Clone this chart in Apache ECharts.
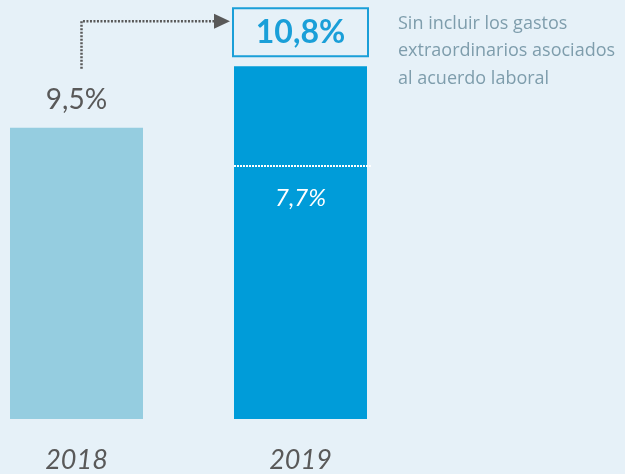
<!DOCTYPE html>
<html>
<head>
<meta charset="utf-8">
<script src="https://cdn.jsdelivr.net/npm/echarts@6/dist/echarts.min.js"></script>
<style>
  html, body { margin: 0; padding: 0; background: #e6f1f8; }
  #chart { width: 625px; height: 474px; }
</style>
</head>
<body>
<div id="chart"></div>
<script>
// datos
const years = ['2018', '2019']
const ratios = [9.5, 10.8]
const ratioLabels = ['9,5%', '10,8%']
const reported = [[1, 7.7]] // 2019 incluyendo gastos extraordinarios
const reportedLabels = ['7,7%']
const noteLines = ['Sin incluir los gastos', 'extraordinarios asociados', 'al acuerdo laboral']

const BAR_W = 133
const FONT = 'Lato, "Open Sans", sans-serif'
const colors = ['#95cde0', '#009cd9']

const chart = echarts.init(document.getElementById('chart'))

chart.setOption({
  backgroundColor: '#e6f1f8',
  animation: false,
  grid: { left: 76.5, width: 224, top: 0, bottom: 52 },
  xAxis: {
    type: 'category',
    data: years,
    boundaryGap: false,
    axisLine: { show: false },
    axisTick: { show: false },
    splitLine: { show: false },
    axisLabel: {
      margin: 28,
      fontSize: 27,
      fontStyle: 'italic',
      color: '#595959',
      fontFamily: FONT
    }
  },
  yAxis: [
    { type: 'value', min: 3.35, max: 12.2, show: false },
    { type: 'value', min: 0, max: 12.75, show: false } // escala del 7,7%
  ],
  graphic: [{
    type: 'text',
    left: 398,
    top: 10,
    style: {
      text: noteLines.join('\n'),
      font: '18px "Open Sans", sans-serif',
      lineHeight: 27.5,
      fill: '#7e9dac'
    }
  }],
  series: [
    {
      type: 'bar',
      barWidth: BAR_W,
      data: ratios.map((v, i) => ({
        value: v,
        itemStyle: { color: colors[i] },
        label: i === 0 ? {
          show: true,
          position: 'top',
          distance: 14,
          formatter: ratioLabels[i],
          fontSize: 28,
          color: '#595959',
          fontFamily: FONT
        } : {
          show: true,
          position: 'top',
          distance: 10,
          formatter: ratioLabels[i],
          fontSize: 32,
          fontWeight: 'bold',
          color: '#1a9fd8',
          fontFamily: FONT,
          width: 135,
          height: 48,
          lineHeight: 48,
          align: 'center',
          borderColor: '#1a9fd8',
          borderWidth: 2
        }
      }))
    },
    {
      // linea punteada del 7,7%
      type: 'custom',
      yAxisIndex: 1,
      data: reported,
      z: 5,
      renderItem(params, api) {
        const p = api.coord([api.value(0), api.value(1)])
        return {
          type: 'group',
          children: [
            {
              type: 'line',
              shape: { x1: p[0] - BAR_W / 2, y1: p[1], x2: p[0] + BAR_W / 2 + 4, y2: p[1] },
              style: { stroke: '#ffffff', lineWidth: 2, lineDash: [2, 1] }
            },
            {
              type: 'text',
              style: {
                text: reportedLabels[params.dataIndex],
                x: p[0], y: p[1] + 32,
                align: 'center', verticalAlign: 'middle',
                font: 'italic 24px ' + FONT,
                fill: '#ffffff'
              }
            }
          ]
        }
      }
    },
    {
      // flecha de 2018 a 2019
      type: 'custom',
      data: [[0, ratios[0], ratios[1]]],
      z: 5,
      renderItem(params, api) {
        const a = api.coord([0, api.value(1)])
        const b = api.coord([1, api.value(2)])
        const x0 = a[0] + 5
        const yArrow = b[1] - 45
        const tip = b[0] - BAR_W / 2 - 4
        return {
          type: 'group',
          children: [
            {
              type: 'polyline',
              shape: { points: [[x0, a[1] - 59], [x0, yArrow], [tip - 15, yArrow]] },
              style: { stroke: '#595959', lineWidth: 2.5, lineDash: [2, 1.5], fill: null }
            },
            {
              type: 'polygon',
              shape: { points: [[tip - 16, yArrow - 7.5], [tip, yArrow], [tip - 16, yArrow + 7.5]] },
              style: { fill: '#595959' }
            }
          ]
        }
      }
    }
  ]
})
</script>
</body>
</html>
